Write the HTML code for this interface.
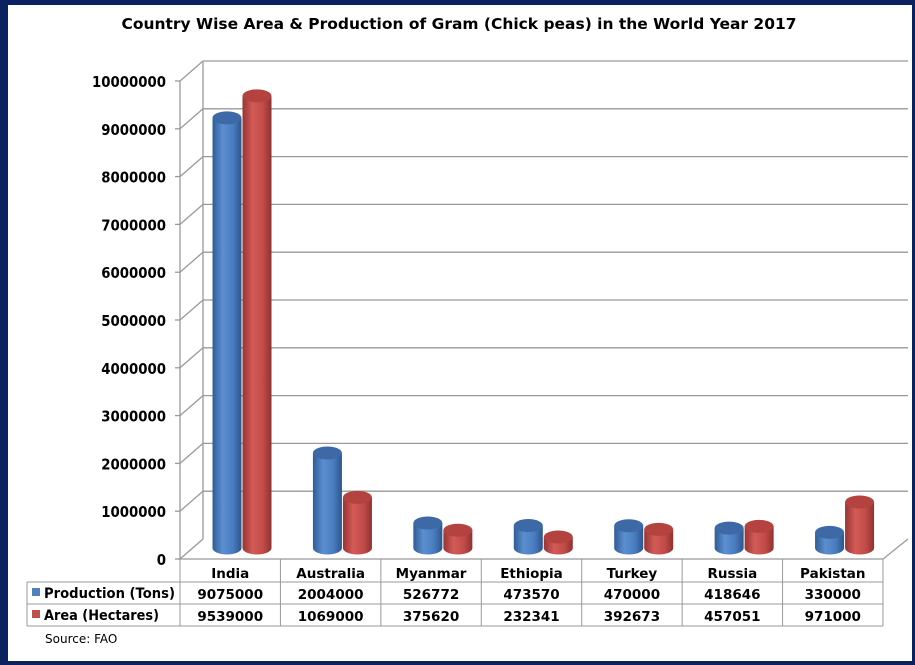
<!DOCTYPE html>
<html><head><meta charset="utf-8"><style>
html,body{margin:0;padding:0;background:#fff;}
svg{display:block;}
text{font-family:"DejaVu Sans","Liberation Sans",sans-serif;}
</style></head><body>
<svg width="915" height="665" viewBox="0 0 915 665" xmlns="http://www.w3.org/2000/svg">
<defs>
<linearGradient id="gb" x1="0" x2="1" y1="0" y2="0">
<stop offset="0" stop-color="#2f5c94"/><stop offset="0.35" stop-color="#5b8fd0"/><stop offset="0.7" stop-color="#4a7dbf"/><stop offset="1" stop-color="#2c568c"/></linearGradient>
<linearGradient id="gr" x1="0" x2="1" y1="0" y2="0">
<stop offset="0" stop-color="#963533"/><stop offset="0.35" stop-color="#d35a57"/><stop offset="0.7" stop-color="#c24c49"/><stop offset="1" stop-color="#8f3230"/></linearGradient>
</defs>
<rect x="0" y="0" width="915" height="665" fill="#0b2260"/>
<rect x="8" y="5" width="904" height="656" fill="#fff"/>
<text x="459" y="29" text-anchor="middle" font-size="15" font-weight="bold" textLength="675" lengthAdjust="spacingAndGlyphs">Country Wise Area &amp; Production of Gram (Chick peas) in the World Year 2017</text>
<g stroke="#999" stroke-width="1.3" fill="none">
<line x1="180" y1="81" x2="180" y2="559"/>
<line x1="203" y1="61" x2="203" y2="539"/>
<line x1="178" y1="559" x2="883" y2="559"/>
<line x1="883" y1="559" x2="908" y2="539"/>
</g>
<g id="grid" stroke="#999" stroke-width="1.3" fill="none"></g>
<g id="ylab" font-size="15" font-weight="bold" text-anchor="end"></g>
<g id="bars"></g>
<g stroke="#999" stroke-width="1" fill="none">
<line x1="180" y1="559" x2="180" y2="626"/>
<line x1="27" y1="582" x2="883" y2="582"/>
<line x1="27" y1="604" x2="883" y2="604"/>
<line x1="27" y1="626" x2="883" y2="626"/>
<line x1="27" y1="582" x2="27" y2="626"/>
<line x1="883" y1="559" x2="883" y2="626"/>
<g id="vlines"></g>
</g>
<g id="tbl" font-size="13.5" font-weight="bold" text-anchor="middle"></g>
<rect x="32" y="588" width="8" height="8" fill="#4f81bd"/>
<rect x="32" y="610" width="8" height="8" fill="#c0504d"/>
<text x="44" y="598" font-size="14" font-weight="bold" textLength="131" lengthAdjust="spacingAndGlyphs">Production (Tons)</text>
<text x="44" y="620" font-size="14" font-weight="bold" textLength="115" lengthAdjust="spacingAndGlyphs">Area (Hectares)</text>
<text x="45" y="643" font-size="12" font-family="Liberation Sans, sans-serif">Source: FAO</text>
</svg>
<script>
var ns="http://www.w3.org/2000/svg";
function el(p,t,a,txt){var e=document.createElementNS(ns,t);for(var k in a)e.setAttribute(k,a[k]);if(txt!==undefined)e.textContent=txt;document.getElementById(p).appendChild(e);return e;}
for(var i=0;i<=10;i++){var y=559-i*47.8;var s=String(i*1000000);
 el("grid","line",{x1:180,y1:y,x2:203,y2:y-20});
 if(i>0){el("grid","line",{x1:203,y1:y-20,x2:908,y2:y-20});}
 el("grid","line",{x1:175,y1:y,x2:180,y2:y});
 el("ylab","text",{x:166,y:y+6,textLength:(s.length*9.25).toFixed(1),lengthAdjust:"spacingAndGlyphs"},s);}
var cats=["India","Australia","Myanmar","Ethiopia","Turkey","Russia","Pakistan"];
var P=[9075000,2004000,526772,473570,470000,418646,330000];
var A=[9539000,1069000,375620,232341,392673,457051,971000];
var w=(883-180)/7;
function cyl(cx,v,g,top){var base=548,t=base-v*47.4e-6,r=14.5,ry=6.5;
 el("bars","rect",{x:cx-r,y:t,width:2*r,height:base-t,fill:"url(#"+g+")"});
 el("bars","ellipse",{cx:cx,cy:base,rx:r,ry:ry,fill:"url(#"+g+")"});
 el("bars","ellipse",{cx:cx,cy:t,rx:r,ry:ry,fill:top});}
for(var j=0;j<7;j++){var s=180+j*w;
 cyl(s+47,P[j],"gb","#3d6aa6");cyl(s+77,A[j],"gr","#b4423f");
 if(j>0)el("vlines","line",{x1:s,y1:559,x2:s,y2:626});
 el("tbl","text",{x:s+w/2,y:578},cats[j]);
 el("tbl","text",{x:s+w/2,y:599},String(P[j]));
 el("tbl","text",{x:s+w/2,y:621},String(A[j]));}
</script>
</body></html>
